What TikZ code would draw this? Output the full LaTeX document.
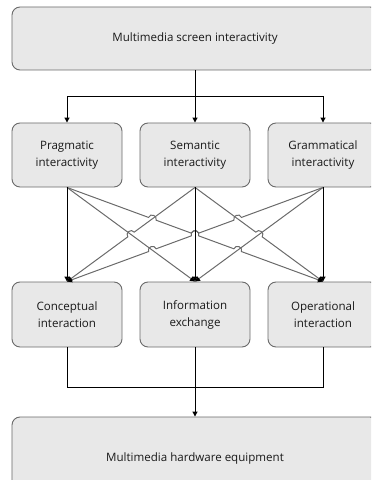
\documentclass[tikz,border=0pt]{standalone}
\usepackage{fontspec}
\setmainfont{Open Sans}
\usetikzlibrary{arrows.meta,calc}

\definecolor{boxfill}{HTML}{E8E8E8}
\definecolor{boxline}{HTML}{6A6A6A}
\definecolor{wire}{HTML}{6A6A6A}

% line jump: coordinates for a small arc on the segment from #2 to #3 at fraction #4;
% #5 is the turn (90 or -90) that makes the arc bulge upwards
\newcommand\mkhop[5]{%
  \coordinate (#1) at ($(#2)!#4!(#3)$);
  \coordinate (#1-a) at ($(#1)!4bp!(#2)$);
  \coordinate (#1-b) at ($(#1)!4bp!(#3)$);
  \coordinate (#1-ca) at ($(#1-a)!5bp!#5:(#1)$);
  \coordinate (#1-cb) at ($(#1-b)!5bp!#5:(#3)$);
}
\newcommand\hopover[1]{-- (#1-a) .. controls (#1-ca) and (#1-cb) .. (#1-b)}

\begin{document}
\begin{tikzpicture}[x=1bp,y=-1bp,
  box/.style={draw=boxline,fill=boxfill,line width=0.9bp,rounded corners=8bp,
    inner sep=0pt,align=center,font=\fontsize{11.6}{17}\selectfont,text=black!90},
  rowbox/.style={box,minimum width=110bp,minimum height=64bp},
  link/.style={line width=1bp,black},
  arr/.style={link,-{Triangle[length=5bp,width=5bp]}},
  diag/.style={line width=1bp,wire,-{Triangle[length=5bp,width=5bp,color=black]}}]

\useasboundingbox (0,0) rectangle (371,480);
\clip (0,0) rectangle (371,480);

% boxes
\node[box,minimum width=366bp,minimum height=63bp] (top) at (195,38.5) {Multimedia screen interactivity};
\node[rowbox] (p1) at (67,155) {Pragmatic\\interactivity};
\node[rowbox] (p2) at (195,155) {Semantic\\interactivity};
\node[rowbox] (p3) at (323,155) {Grammatical\\interactivity};
\node[rowbox,minimum height=65bp] (c1) at (67,314.5) {Conceptual\\interaction};
\node[rowbox,minimum height=65bp] (c2) at (195,314.5) {Information\\exchange};
\node[rowbox,minimum height=65bp] (c3) at (323,314.5) {Operational\\interaction};
\node[box,minimum width=366bp,minimum height=83bp] (hw) at (195,458.5) {Multimedia hardware equipment};

% fan-out from the top box
\coordinate (j1) at (195,97);
\draw[link] (top.south) -- (j1);
\draw[arr] (j1) -| (p1.north);
\draw[arr] (j1) -- (p2.north);
\draw[arr] (j1) -| (p3.north);

% line jumps on the crossing connectors
\mkhop{b1}{p1.south}{c3.north}{0.3333}{90}
\mkhop{b2}{p1.south}{c3.north}{0.5}{90}
\mkhop{b3}{p1.south}{c3.north}{0.6667}{90}
\mkhop{e1}{p3.south}{c1.north}{0.3333}{-90}
\mkhop{e2}{p3.south}{c1.north}{0.5}{-90}
\mkhop{e3}{p3.south}{c1.north}{0.6667}{-90}
\mkhop{cc}{p2.south}{c1.north}{0.5}{-90}
\mkhop{dd}{p2.south}{c3.north}{0.5}{90}

% every upper box feeds every lower box
\draw[diag] (p1.south) -- (c2.north);
\draw[diag] (p3.south) -- (c2.north);
\draw[diag] (p2.south) \hopover{cc} -- (c1.north);
\draw[diag] (p2.south) \hopover{dd} -- (c3.north);
\draw[diag] (p1.south) \hopover{b1} \hopover{b2} \hopover{b3} -- (c3.north);
\draw[diag] (p3.south) \hopover{e1} \hopover{e2} \hopover{e3} -- (c1.north);
\draw[arr] (p1.south) -- (c1.north);
\draw[arr] (p2.south) -- (c2.north);
\draw[arr] (p3.south) -- (c3.north);

% merge into the hardware box
\coordinate (j2) at (195,387);
\draw[link] (c1.south) |- (j2);
\draw[link] (c3.south) |- (j2);
\draw[arr] (c2.south) -- (hw.north);
\end{tikzpicture}
\end{document}
